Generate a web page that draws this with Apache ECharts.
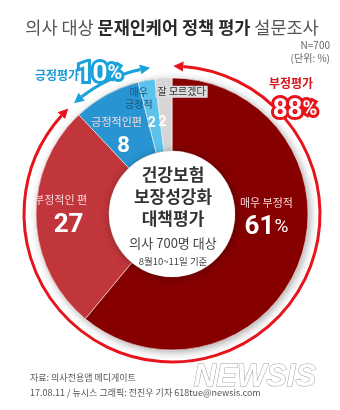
<!DOCTYPE html>
<html><head><meta charset="utf-8">
<script src="https://cdn.jsdelivr.net/npm/echarts@6/dist/echarts.min.js"></script>
<style>html,body{margin:0;padding:0;background:#fff}#c{width:340px;height:410px}</style>
</head><body><div id="c"></div>
<script>
const categories = ['매우 부정적','부정적인 편','긍정적인편','매우 긍정적','잘 모르겠다'];
const values = [61,27,8,2,2];
const groupNames = ['부정평가','긍정평가'];
const groupValues = [88,10];
const titleParts = ['의사 대상 ','문재인케어 정책 평가',' 설문조사'];
const centerLines = ['건강보험','보장성강화','대책평가'];
const centerSub = ['의사 700명 대상','8월10~11일 기준'];
const noteLines = ['N=700','(단위: %)'];
const sourceLines = ['자료: 의사전용앱 메디게이트','17.08.11 / 뉴시스 그래픽: 전진우 기자 618tue@newsis.com'];
const logoText = 'NEWSIS';

const COLORS = ['#860000','#c0363a','#2895d2','#5bc2ec','#d6d6d6'];
const FONT = '"Noto Sans CJK KR", sans-serif';
const NUM = 'Roboto, "Liberation Sans", sans-serif';
const CX = 172, CY = 214, R_IN = 63, R_OUT = 136, R_ARC = 148;
const VALUE_SHIFT = [[-2,-31],[-9,-2],[-6,12],[-1,5],[-3,6]];
const NAME_SHIFT = [null, null, null, [-14,-18],[16,-23]];

function fmtValue(p){
  const i = p.dataIndex, v = p.value;
  if (i === 0) return '{n|' + p.name + '}\n{big|' + v + '}{pct|%}';
  if (i === 1) return '{n|' + p.name + '}\n{big1|' + v + '}';
  if (i === 2) return '{n|' + p.name + '}\n{mid|' + v + '}';
  return '{s|' + v + '}';
}
function fmtName(p){
  const i = p.dataIndex;
  if (i === 3) return p.name.split(' ').map(s => '{d|' + s + '}').join('\n');
  if (i === 4) return '{g|' + p.name + '}';
  return '';
}

function rad(d){ return d * Math.PI / 180; }
function pt(theta, r){ const f = rad(theta - 90); return [CX + r * Math.cos(f), CY + r * Math.sin(f)]; }
function head(tipTheta, baseTheta, color){
  const t = pt(tipTheta, R_ARC), f = rad(baseTheta - 90);
  const b = pt(baseTheta, R_ARC), W = 5;
  return {type:'polygon', z:5, silent:true,
    shape:{points:[t,[b[0]+Math.cos(f)*W, b[1]+Math.sin(f)*W],[b[0]-Math.cos(f)*W, b[1]-Math.sin(f)*W]]},
    style:{fill:color}};
}
function arrowArc(s, e, color){
  const L = 10, dA = L / R_ARC * 180 / Math.PI;
  return [
    {type:'arc', z:5, silent:true, shape:{cx:CX, cy:CY, r:R_ARC, startAngle:rad(s + dA - 90), endAngle:rad(e - dA - 90), clockwise:true},
      style:{stroke:color, lineWidth:3, fill:null}},
    head(s, s + dA, color), head(e, e - dA, color)
  ];
}
const negSpan = groupValues[0] / 100 * 360;
const posSpan = groupValues[1] / 100 * 360;

function txt(x, y, text, o, z){
  return {type:'text', x:x, y:y, z:z || 20, silent:true,
    style:Object.assign({text:text, align:'center', verticalAlign:'middle', textAlign:'center', textVerticalAlign:'middle', fontFamily:FONT}, o || {})};
}
function outlinedPct(x, y, v, color){
  const mk = (fill, stroke, lw) => ({
    n:{fontSize:26, fontWeight:'bold', fill:fill, fontFamily:NUM, stroke:stroke, lineWidth:lw},
    p:{fontSize:20, fontWeight:'bold', fill:fill, fontFamily:NUM, stroke:stroke, lineWidth:lw}});
  const s = '{n|' + v + '}{p|%}';
  return [txt(x, y, s, {rich:mk(color, color, 6)}, 20), txt(x, y, s, {rich:mk('#fff', null, 0)}, 21)];
}

const chart = echarts.init(document.getElementById('c'), null, {renderer:'canvas'});
const graphics = [
  {type:'circle', z:1, silent:true, shape:{cx:CX, cy:CY, r:R_OUT}, style:{fill:'#860000', shadowBlur:8, shadowColor:'rgba(0,0,0,0.35)', shadowOffsetX:2, shadowOffsetY:2}},
  {type:'circle', z:10, silent:true, shape:{cx:CX, cy:CY, r:R_IN}, style:{fill:'#fff', shadowBlur:8, shadowColor:'rgba(0,0,0,0.35)', shadowOffsetX:1, shadowOffsetY:1}},
  ...arrowArc(0.5, negSpan - 1.3, '#e8141b'),
  ...arrowArc(negSpan + 1.7, negSpan + posSpan - 1.3, '#1ba1dc'),
  txt(172, 27, '{a|' + titleParts[0] + '}{b|' + titleParts[1] + '}{a|' + titleParts[2] + '}', {
    rich:{a:{fontSize:17.5, fill:'#555', fontFamily:FONT}, b:{fontSize:17.5, fontWeight:'bold', fill:'#2a2a2a', fontFamily:FONT}}}),
  txt(330, 45, noteLines[0], {align:'right', textAlign:'right', fontSize:10, fill:'#666'}),
  txt(330, 58, noteLines[1], {align:'right', textAlign:'right', fontSize:10, fill:'#666'}),
  txt(CX + 1, 175, centerLines[0], {fontSize:17, fontWeight:'bold', fill:'#333'}),
  txt(CX + 1, 197, centerLines[1], {fontSize:17, fontWeight:'bold', fill:'#333'}),
  txt(CX + 1, 219, centerLines[2], {fontSize:17, fontWeight:'bold', fill:'#333'}),
  txt(CX + 1, 243, centerSub[0], {fontSize:13, fill:'#444'}),
  txt(CX + 1, 261, centerSub[1], {fontSize:9.5, fill:'#444'}),
  txt(291, 83, groupNames[0], {fontSize:12, fontWeight:'bold', fill:'#d8141b'}),
  ...outlinedPct(295, 110, groupValues[0], '#e8141b'),
  txt(57, 75, groupNames[1], {fontSize:12, fontWeight:'bold', fill:'#1a9ad6'}),
  ...outlinedPct(100, 74, groupValues[1], '#1ba1dc'),
  txt(30, 378, sourceLines[0], {align:'left', textAlign:'left', fontSize:9, fill:'#555'}),
  txt(30, 393, sourceLines[1], {align:'left', textAlign:'left', fontSize:9, fill:'#555'}),
  txt(255, 377, logoText, {fontSize:31, fontStyle:'italic', fontWeight:'bold', fontFamily:'"Liberation Sans", sans-serif', fill:'#fff', stroke:'#a0a0a0', lineWidth:1})
];

const pieData = categories.map((n, i) => ({name:n, value:values[i], itemStyle:{color:COLORS[i]}}));
chart.setOption({
  animation:false,
  backgroundColor:'#fff',
  graphic:{elements:graphics},
  series:[{
    type:'pie', radius:[R_IN, R_OUT], center:[CX, CY], startAngle:90, clockwise:true,
    silent:true, avoidLabelOverlap:false, z:3,
    itemStyle:{borderColor:'#fff', borderWidth:0.6},
    label:{show:true, position:'inside', formatter:fmtValue, fontFamily:FONT,
      rich:{
        n:{fontSize:11, color:'#f6dada', lineHeight:20, fontFamily:FONT},
        big:{fontSize:26, fontWeight:'bold', color:'#fff', fontFamily:NUM, lineHeight:30},
        big1:{fontSize:26, fontWeight:'bold', color:'#fff', fontFamily:NUM, lineHeight:30, padding:[0,0,0,16]},
        pct:{fontSize:19, color:'#fff', fontFamily:NUM, lineHeight:30},
        mid:{fontSize:22, fontWeight:'bold', color:'#fff', fontFamily:NUM, lineHeight:28, padding:[0,0,0,14]},
        s:{fontSize:14, fontWeight:'bold', color:'#fff', fontFamily:NUM, padding:[10,0,0,0]}
      }},
    labelLine:{show:false},
    labelLayout:function(p){ const s = VALUE_SHIFT[p.dataIndex]; return {dx:s[0], dy:s[1]}; },
    data:pieData
  },{
    type:'pie', radius:[R_IN, R_OUT], center:[CX, CY], startAngle:90, clockwise:true,
    silent:true, avoidLabelOverlap:false, z:4,
    itemStyle:{color:'rgba(0,0,0,0)', borderWidth:0},
    label:{show:true, position:'inside', formatter:fmtName, fontFamily:FONT, padding:[6,0,0,0],
      rich:{
        d:{fontSize:10, color:'#22527a', lineHeight:12, fontFamily:FONT},
        g:{fontSize:10, color:'#333', backgroundColor:'#dcdcdc', padding:[1,2], lineHeight:14, fontFamily:FONT}
      }},
    labelLine:{show:false},
    labelLayout:function(p){ const s = NAME_SHIFT[p.dataIndex] || [0,0]; return {dx:s[0], dy:s[1]}; },
    data:categories.map((n, i) => ({name:n, value:values[i]}))
  }]
});
</script></body></html>
